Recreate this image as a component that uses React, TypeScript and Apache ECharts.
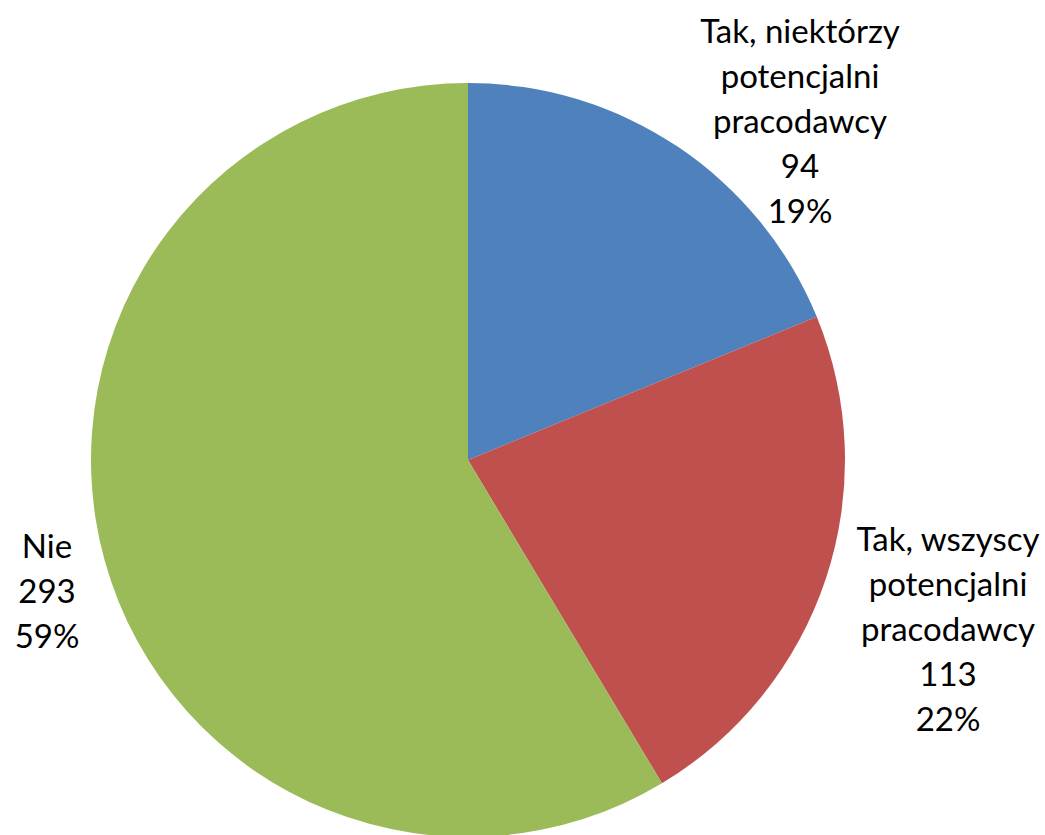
import React, { useEffect, useRef } from "react";
import * as echarts from "echarts";

const categories = [
  "Tak, niektórzy\npotencjalni\npracodawcy",
  "Tak, wszyscy\npotencjalni\npracodawcy",
  "Nie",
];
const values = [94, 113, 293];
const percents = ["19%", "22%", "59%"];
const colors = ["#4F81BD", "#C0504D", "#9BBB59"];

const labelPositions = [
  { x: 800, y: 120 },
  { x: 948, y: 628 },
  { x: 47, y: 590 },
];

export default function App() {
  const ref = useRef<HTMLDivElement>(null);
  useEffect(() => {
    document.body.style.margin = "0";
    const chart = echarts.init(ref.current!, null, { renderer: "svg" });
    chart.setOption({
      animation: false,
      backgroundColor: "#ffffff",
      series: [
        {
          type: "pie",
          center: [468, 460],
          radius: 377,
          startAngle: 90,
          clockwise: true,
          avoidLabelOverlap: false,
          data: categories.map((name, i) => ({
            name,
            value: values[i],
            itemStyle: { color: colors[i] },
          })),
          label: {
            show: true,
            position: "outside",
            overflow: "none",
            formatter: (p: any) => `${p.name}\n${p.value}\n${percents[p.dataIndex]}`,
            fontFamily: "Lato, 'Open Sans', sans-serif",
            fontSize: 33,
            lineHeight: 45,
            color: "#000000",
            align: "center",
          },
          labelLine: { show: false },
          labelLayout: (params: any) => ({
            x: labelPositions[params.dataIndex].x,
            y: labelPositions[params.dataIndex].y,
            align: "center",
            verticalAlign: "middle",
          }),
        },
      ],
    });
    return () => chart.dispose();
  }, []);
  return <div ref={ref} style={{ width: 1045, height: 835 }} />;
}
